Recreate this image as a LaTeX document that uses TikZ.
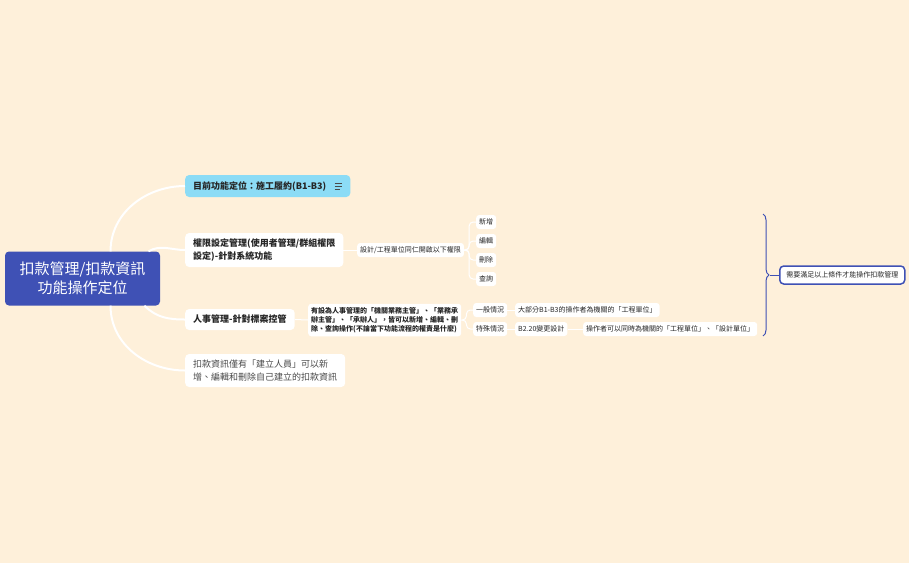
\documentclass[tikz,border=0pt]{standalone}
\usepackage{fontspec}
\setmainfont{Noto Sans CJK TC}
\usetikzlibrary{decorations.pathreplacing}

\definecolor{paper}{HTML}{FEF0DA}
\definecolor{rootblue}{HTML}{3F51B5}
\definecolor{skyblue}{HTML}{8CDCF6}
\definecolor{ink}{HTML}{262626}
\definecolor{greyink}{HTML}{4A4A4A}

\tikzset{
  root/.style={fill=rootblue, text=white, rounded corners=4pt, align=center, inner sep=0pt,
    minimum width=155pt, minimum height=54pt, font=\fontsize{15}{19}\selectfont},
  topic/.style={fill=white, text=ink, rounded corners=4pt, align=left, anchor=west,
    inner xsep=8pt, inner ysep=0pt, font=\bfseries\fontsize{9}{13.5}\selectfont},
  leaf/.style={fill=white, text=ink, rounded corners=3pt, align=left, anchor=west,
    inner xsep=3pt, inner ysep=0pt, minimum height=14pt, font=\fontsize{7}{9}\selectfont},
  branch/.style={draw=white, line width=2pt},
  link/.style={draw=white, line width=1pt, rounded corners=4pt},
}

\begin{document}
\begin{tikzpicture}[x=1pt, y=1pt]

     \fill [paper] (0, 0) rectangle (909, -563);
     \useasboundingbox (0, 0) rectangle (909, -563);

     \node (root) at (82.5, -278.5) [root] {扣款管理/扣款資訊\\功能操作定位};

     \node (now) at (185, -186) [topic, fill=skyblue, minimum height=22pt] {目前功能定位：施工履約(B1-B3)\hspace{16pt}};
     \node (perm) at (185, -250) [topic, minimum height=34pt] {權限設定管理(使用者管理/群組權限\\設定)-針對系統功能};
     \node (staff) at (185, -319.5) [topic, minimum height=21pt] {人事管理-針對標案控管};
     \node (owner) at (185, -370.5) [topic, minimum height=33pt, text=greyink, font=\fontsize{9}{13}\selectfont] {扣款資訊僅有「建立人員」可以新\\增、編輯和刪除自己建立的扣款資訊};

     \draw [greyink, line width=0.8pt] ([xshift=-16pt, yshift=3pt]now.east) -- ++(7, 0);
     \draw [greyink, line width=0.8pt] ([xshift=-16pt]now.east) -- ++(7, 0);
     \draw [greyink, line width=0.8pt] ([xshift=-16pt, yshift=-3pt]now.east) -- ++(5, 0);

     \node (unit) at (357, -250) [leaf] {設計/工程單位同仁開啟以下權限};
     \node (add) at (476, -222) [leaf] {新增};
     \node (edit) at (476, -241) [leaf] {編輯};
     \node (del) at (476, -260) [leaf] {刪除};
     \node (query) at (476, -279) [leaf] {查詢};

     \node (roles) at (308, -320) [leaf, inner ysep=3.5pt, font=\bfseries\fontsize{7}{9}\selectfont] {有設為人事管理的「機關業務主管」、「業務承\\辦主管」、「承辦人」，皆可以新增、編輯、刪\\除、查詢操作(不論當下功能流程的權責是什麼)};
     \node (usual) at (473, -310) [leaf] {一般情況};
     \node (special) at (473, -329) [leaf] {特殊情況};
     \node (mostly) at (515, -310) [leaf] {大部分B1-B3的操作者為機關的「工程單位」};
     \node (change) at (515, -329) [leaf] {B2.20變更設計};
     \node (both) at (583, -329) [leaf] {操作者可以同時為機關的「工程單位」、「設計單位」};

     \node (need) at (779, -275) [leaf, inner xsep=6.5pt, minimum height=18pt, draw=rootblue, line width=1.5pt, rounded corners=4pt] {需要滿足以上條件才能操作扣款管理};

     \draw [branch] ([xshift=28pt]root.north) to [out=90, in=180] (now.west);
     \draw [branch] ([xshift=66pt]root.north) to [out=30, in=180] (perm.west);
     \draw [branch] ([xshift=62pt]root.south) to [out=-45, in=180] (staff.west);
     \draw [branch] ([xshift=28pt]root.south) to [out=-90, in=180] (owner.west);

     \draw [link] (perm.east) -- (unit.west);
     \draw [link] (unit.east) -- ++(5, 0) |- (add.west);
     \draw [link] (unit.east) -- ++(5, 0) |- (edit.west);
     \draw [link] (unit.east) -- ++(5, 0) |- (del.west);
     \draw [link] (unit.east) -- ++(5, 0) |- (query.west);

     \draw [link] (staff.east) -- (roles.west);
     \draw [link] (roles.east) -- ++(5, 0) |- (usual.west);
     \draw [link] (roles.east) -- ++(5, 0) |- (special.west);
     \draw [link] (usual.east) -- (mostly.west);
     \draw [link] (special.east) -- (change.west);
     \draw [link] (change.east) -- (both.west);

     \draw [rootblue, line width=1pt, decorate, decoration={brace, amplitude=6pt}] (763, -214) -- (763, -336);
     \coordinate (tip) at (770, -275);
     \draw [rootblue, line width=1pt] (tip) -- (need.west);

\end{tikzpicture}
\end{document}
